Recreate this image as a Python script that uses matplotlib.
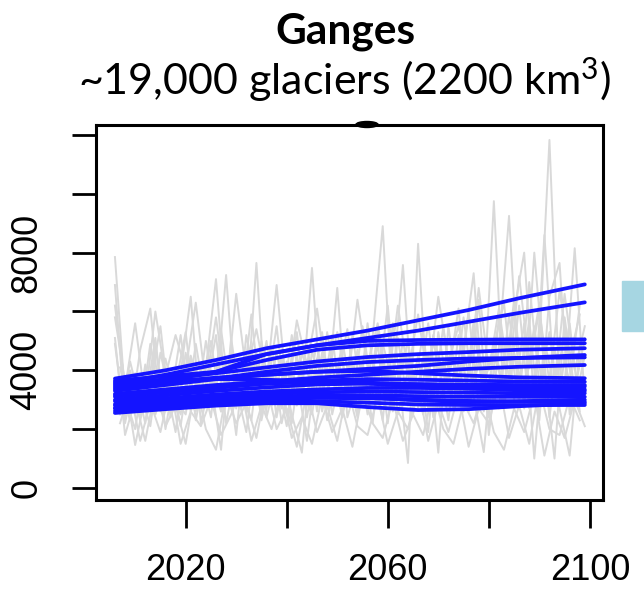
import numpy as np
import matplotlib
matplotlib.use("Agg")
import matplotlib.pyplot as plt
from matplotlib.patches import Rectangle, Ellipse

plt.rcParams["mathtext.fontset"] = "custom"
plt.rcParams["mathtext.rm"] = "Lato"
plt.rcParams["mathtext.default"] = "regular"

# ---------------- data (values in thousands of units) ----------------
title = "Ganges"
subtitle = "~19,000 glaciers (2200 km$^{3}$)"

years_even = list(range(2006, 2099, 2))   # 2006..2098
years_odd = list(range(2007, 2100, 2))    # 2007..2099

gray_even_1 = [7.85, 3.1, 2.0, 4.2, 2.5, 3.6, 1.9, 4.6, 2.7, 3.3,
               5.2, 2.2, 4.0, 2.6, 7.65, 2.4, 3.8, 2.1, 4.5, 2.9,
               5.0, 2.3, 3.9, 2.8, 4.7, 2.5, 5.4, 3.0, 4.1, 0.85,
               8.3, 2.6, 4.4, 2.3, 5.2, 3.0, 4.6, 2.4, 5.8, 3.1,
               6.2, 2.7, 4.9, 11.83, 3.2, 5.6, 2.6]
gray_even_2 = [6.9, 2.4, 3.7, 2.2, 4.8, 2.6, 3.5, 5.3, 2.3, 4.1,
               7.1, 2.8, 3.4, 1.9, 4.6, 3.2, 5.5, 2.5, 3.7, 1.6,
               4.3, 3.0, 6.8, 2.4, 3.6, 2.9, 4.9, 2.2, 5.1, 2.8,
               4.5, 1.9, 5.3, 3.3, 4.2, 2.6, 6.4, 1.8, 4.8, 9.25,
               3.4, 5.7, 2.3, 6.5, 7.65, 2.5, 4.3]
gray_even_3 = [5.8, 3.6, 1.46, 3.1, 2.7, 4.4, 3.0, 2.5, 4.9, 2.9,
               3.3, 7.24, 2.7, 4.5, 3.1, 5.0, 2.4, 4.3, 2.8, 4.9,
               2.6, 5.3, 3.2, 4.0, 2.4, 5.6, 2.9, 4.2, 3.4, 5.0,
               2.7, 4.6, 1.2, 5.5, 3.0, 6.0, 2.8, 4.4, 3.6, 5.1,
               2.9, 7.0, 3.5, 5.3, 2.7, 1.1, 4.8]
gray_even_4 = [4.9, 2.2, 3.9, 2.8, 5.1, 2.0, 4.0, 3.1, 2.6, 5.0,
               2.9, 4.3, 1.8, 5.2, 3.4, 2.7, 4.6, 3.0, 5.3, 2.4,
               4.4, 2.7, 3.6, 5.4, 2.6, 4.1, 3.3, 6.2, 2.5, 4.0,
               3.2, 5.6, 2.9, 3.8, 6.1, 2.6, 4.3, 3.5, 2.7, 5.9,
               3.3, 4.1, 6.3, 2.4, 5.0, 3.6, 6.2]
gray_even_5 = [5.1, 1.8, 3.0, 1.6, 3.4, 2.1, 2.8, 1.5, 3.6, 2.0,
               1.3, 3.2, 2.2, 2.9, 1.7, 3.5, 2.0, 2.7, 1.4, 3.3,
               1.9, 2.8, 1.6, 3.4, 2.1, 1.8, 3.1, 1.5, 2.6, 2.0,
               3.5, 1.6, 2.9, 1.9, 3.2, 1.4, 2.7, 2.2, 3.6, 1.7,
               2.8, 1.5, 3.4, 2.0, 1.8, 3.1, 2.3]
gray_even_6 = [6.2, 3.4, 5.6, 3.0, 6.0, 3.8, 5.2, 4.0, 6.3, 3.5,
               5.8, 3.2, 6.6, 3.9, 5.4, 3.6, 6.9, 3.3, 5.7, 4.2,
               6.1, 3.7, 5.3, 3.4, 6.4, 4.1, 5.6, 3.5, 6.2, 3.9,
               5.9, 3.6, 6.5, 4.3, 5.5, 3.8, 6.8, 4.0, 6.1, 3.7,
               7.2, 4.2, 6.0, 3.6, 6.7, 4.4, 5.9]
gray_odd_1 = [3.4, 2.3, 4.7, 6.1, 2.6, 3.8, 2.1, 4.4, 2.9, 3.6,
              1.3, 5.1, 2.7, 4.2, 2.5, 4.8, 2.2, 3.9, 3.1, 7.48,
              2.6, 4.1, 2.4, 5.2, 3.0, 4.5, 2.3, 5.6, 2.8, 4.0,
              2.5, 5.0, 3.3, 4.4, 2.6, 5.7, 3.0, 9.75, 2.8, 4.6,
              3.2, 5.5, 2.9, 4.7, 3.5, 8.15, 3.0]
gray_odd_2 = [2.5, 4.3, 2.9, 3.5, 5.5, 2.4, 3.9, 6.5, 2.2, 3.8,
              2.6, 4.6, 3.2, 2.3, 5.0, 2.8, 4.1, 2.5, 1.2, 4.7,
              3.0, 5.2, 2.4, 4.3, 2.9, 5.1, 8.9, 2.7, 4.6, 3.1,
              5.3, 2.4, 4.2, 2.8, 5.8, 3.1, 1.22, 4.9, 3.3, 6.0,
              8.0, 2.8, 8.6, 3.4, 5.2, 2.9, 4.5]
gray_odd_3 = [4.1, 2.8, 3.3, 2.1, 4.6, 3.0, 5.2, 2.6, 3.9, 2.4,
              5.4, 2.9, 3.7, 4.8, 2.3, 4.0, 2.7, 5.2, 3.3, 2.5,
              4.6, 2.8, 5.0, 3.1, 4.3, 2.2, 4.9, 3.6, 7.58, 2.5,
              4.4, 3.0, 5.5, 2.7, 4.7, 7.3, 2.6, 4.5, 3.4, 6.4,
              2.7, 8.0, 4.0, 1.0, 5.8, 3.3, 5.1]
gray_odd_4 = [3.0, 4.0, 2.4, 4.9, 2.8, 3.4, 2.5, 4.5, 3.2, 5.0,
              2.6, 4.2, 3.0, 5.9, 2.7, 3.8, 4.4, 2.2, 4.6, 3.4,
              5.3, 2.5, 4.0, 2.9, 5.5, 3.2, 4.3, 2.6, 5.0, 3.5,
              2.6, 5.2, 3.8, 4.5, 2.8, 5.4, 3.5, 4.8, 6.3, 3.0,
              5.6, 1.0, 5.0, 3.4, 6.6, 4.0, 5.5]
gray_odd_5 = [2.2, 3.3, 1.6, 2.9, 1.9, 3.5, 1.5, 2.6, 2.1, 3.0,
              1.8, 2.5, 3.4, 1.6, 2.8, 2.0, 3.3, 1.7, 2.4, 1.5,
              3.1, 1.9, 2.7, 1.4, 3.2, 2.2, 1.7, 3.0, 1.6, 2.5,
              1.8, 3.3, 2.0, 1.5, 2.9, 2.2, 3.4, 1.9, 1.3, 2.7,
              1.9, 3.2, 1.1, 2.6, 1.7, 3.0, 2.1]

blue_years = [2006, 2016, 2026, 2036, 2046, 2056, 2066, 2076, 2086, 2099]
blue_1 = [3.72, 4.00, 4.35, 4.75, 5.05, 5.35, 5.70, 6.05, 6.45, 6.92]
blue_2 = [3.55, 3.85, 4.20, 4.55, 4.85, 5.10, 5.35, 5.65, 5.95, 6.31]
blue_3 = [3.65, 3.80, 3.95, 4.55, 4.85, 5.00, 5.03, 5.04, 5.05, 5.05]
blue_4 = [3.40, 3.65, 3.95, 4.35, 4.70, 4.85, 4.90, 4.92, 4.92, 4.92]
blue_5 = [3.50, 3.70, 3.90, 4.10, 4.30, 4.45, 4.55, 4.62, 4.70, 4.75]
blue_6 = [3.30, 3.50, 3.70, 3.85, 3.95, 4.05, 4.15, 4.30, 4.42, 4.52]
blue_7 = [3.35, 3.55, 3.72, 3.95, 4.15, 4.28, 4.35, 4.40, 4.42, 4.44]
blue_8 = [3.20, 3.35, 3.50, 3.62, 3.75, 3.85, 3.95, 4.05, 4.12, 4.18]
blue_9 = [3.45, 3.60, 3.75, 3.85, 3.95, 3.98, 3.90, 3.82, 3.76, 3.73]
blue_10 = [3.10, 3.25, 3.40, 3.55, 3.65, 3.70, 3.68, 3.65, 3.62, 3.61]
blue_11 = [3.00, 3.15, 3.30, 3.42, 3.52, 3.55, 3.53, 3.51, 3.50, 3.50]
blue_12 = [2.95, 3.05, 3.18, 3.28, 3.35, 3.40, 3.40, 3.38, 3.36, 3.35]
blue_13 = [2.85, 2.98, 3.10, 3.20, 3.25, 3.28, 3.26, 3.24, 3.22, 3.22]
blue_14 = [2.80, 2.92, 3.02, 3.10, 3.15, 3.15, 3.12, 3.10, 3.10, 3.10]
blue_15 = [2.72, 2.85, 2.95, 3.02, 3.06, 3.05, 3.00, 2.96, 2.94, 2.93]
blue_16 = [2.62, 2.75, 2.85, 2.92, 2.95, 2.90, 2.84, 2.82, 2.82, 2.82]
blue_17 = [2.55, 2.68, 2.80, 2.88, 2.88, 2.75, 2.65, 2.68, 2.78, 2.88]
blue_18 = [3.60, 3.65, 3.70, 3.68, 3.62, 3.55, 3.45, 3.38, 3.32, 3.30]
blue_19 = [3.15, 3.30, 3.45, 3.55, 3.60, 3.58, 3.52, 3.48, 3.45, 3.45]
blue_20 = [2.70, 2.82, 2.95, 3.05, 3.12, 3.08, 2.98, 2.92, 2.95, 3.00]

x_ticks = [2020, 2040, 2060, 2080, 2100]
x_tick_labels = ["2020", "", "2060", "", "2100"]
y_ticks = [0, 2000, 4000, 6000, 8000, 10000, 12000]
y_tick_labels = ["0", "", "4000", "", "8000", "", ""]

gray_series = [(years_even, gray_even_1), (years_even, gray_even_2),
               (years_even, gray_even_3), (years_even, gray_even_4),
               (years_even, gray_even_5), (years_even, gray_even_6),
               (years_odd, gray_odd_1), (years_odd, gray_odd_2),
               (years_odd, gray_odd_3), (years_odd, gray_odd_4),
               (years_odd, gray_odd_5)]
blue_series = [blue_1, blue_2, blue_3, blue_4, blue_5, blue_6, blue_7,
               blue_8, blue_9, blue_10, blue_11, blue_12, blue_13, blue_14,
               blue_15, blue_16, blue_17, blue_18, blue_19, blue_20]

# ---------------- figure ----------------
W, H = 644, 592
fig = plt.figure(figsize=(W / 100, H / 100), dpi=100)
ax = fig.add_axes([96 / W, 1 - 500 / H, (603 - 96) / W, (500 - 125) / H])

for yrs, vals in gray_series:
    ax.plot(yrs, np.array(vals) * 1000, color="#d9d9d9", lw=1.4, zorder=1)
for vals in blue_series:
    ax.plot(blue_years, np.array(vals) * 1000, color="#1414ff", lw=2.7,
            zorder=2, solid_capstyle="round", solid_joinstyle="round")

ax.set_xlim(2002.25, 2102.6)
ax.set_ylim(-408, 12338)

tick_font = "Liberation Sans"
ax.set_xticks(x_ticks)
ax.set_xticklabels(x_tick_labels, fontsize=26, family=tick_font)
ax.set_yticks(y_ticks)
ax.set_yticklabels(y_tick_labels, fontsize=26, family=tick_font,
                   rotation=90, va="center")
ax.tick_params(axis="x", direction="out", length=20, width=2.0, pad=18)
ax.tick_params(axis="y", direction="out", length=17, width=2.0, pad=20)
for s in ax.spines.values():
    s.set_linewidth(2.2)

# titles, fitted to measured pixel widths
renderer = fig.canvas.get_renderer()
t1 = fig.text(345 / W, 1 - 32 / H, title, ha="center", va="center",
              fontsize=24, fontweight="bold", family="Lato")
t2 = fig.text(345 / W, 1 - 80 / H, subtitle, ha="center", va="center",
              fontsize=24, family="Lato")
for t, target in ((t1, 140), (t2, 534)):
    w = t.get_window_extent(renderer).width
    t.set_fontsize(24 * target / w)

# partial neighbouring elements in the screenshot
fig.patches.append(Rectangle((622 / W, 1 - 331 / H), 22 / W, 50 / H,
                             transform=fig.transFigure, color="#a6d6e2",
                             zorder=0))
fig.patches.append(Ellipse((367 / W, 1 - 124.5 / H), 22 / W, 6 / H,
                           transform=fig.transFigure, color="black",
                           zorder=5))

fig.savefig("out.png", dpi=100)
